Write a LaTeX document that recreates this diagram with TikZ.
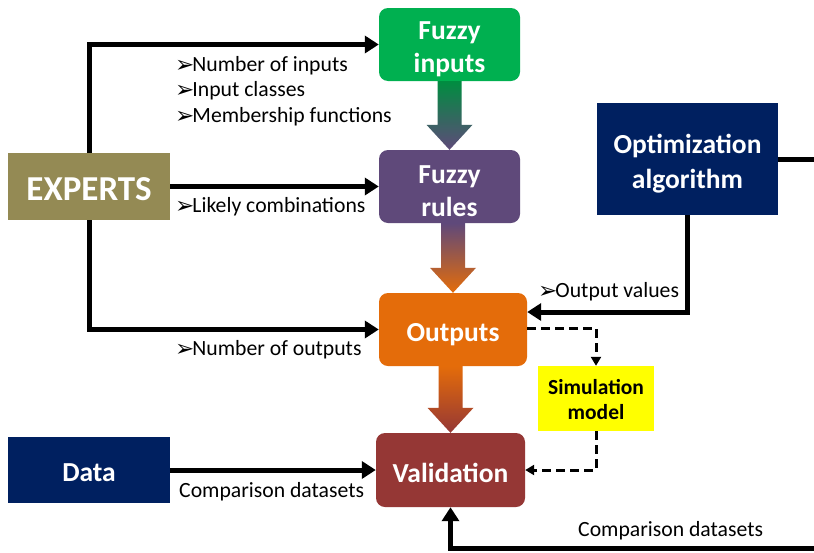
\documentclass[tikz,border=0pt]{standalone}
\usepackage{fontspec}
\setmainfont{Carlito}
\newfontfamily\symfont{DejaVu Sans}
\usetikzlibrary{arrows.meta,calc}

\definecolor{cgreen}{HTML}{00B050}
\definecolor{cpurple}{HTML}{5F497A}
\definecolor{corange}{HTML}{E46C0A}
\definecolor{cred}{HTML}{953735}
\definecolor{colive}{HTML}{948A54}
\definecolor{cnavy}{HTML}{002060}
\definecolor{cyellow}{HTML}{FFFF00}

% bullet arrowhead in front of the list labels
\newcommand\bul{\raisebox{-0.5pt}{\symfont\fontsize{23}{23}\selectfont ➢}\kern-2pt}
% strut that lowers the text inside the boxes a little
\newcommand\lift[1]{\rule{0pt}{#1}}

% vertical block arrow between two stacked nodes, shaded from #3 to #4
\newcommand\blockarr[4]{%
  \shade[top color=#3, bottom color=#4]
    ($(#2.north |- #1.south)+(-12,0)$) --
    ($(#2.north |- #1.south)+(12,0)$) --
    ($(#2.north)+(12,-25)$) -- ($(#2.north)+(23,-25)$) --
    (#2.north) --
    ($(#2.north)+(-23,-25)$) -- ($(#2.north)+(-12,-25)$) -- cycle;}

\tikzset{
  box/.style={rounded corners=9pt, text=white, align=center,
    font=\bfseries\fontsize{27.5}{33}\selectfont, inner sep=0pt},
  sqbox/.style={text=white, align=center,
    font=\bfseries\fontsize{27.5}{35}\selectfont, inner sep=0pt},
  conn/.style={line width=5pt, -{Triangle[length=14pt,width=17pt]}},
  plain/.style={line width=5pt},
  dconn/.style={line width=3pt, dash pattern=on 9pt off 5pt,
    -{Triangle[length=9pt,width=10pt]}},
  lbl/.style={anchor=west, inner sep=0pt, font=\fontsize{21.7}{21.7}\selectfont},
}

\begin{document}
\begin{tikzpicture}[x=1pt, y=-1pt]
\path[use as bounding box, fill=white] (0,0) rectangle (814,552);

% boxes
\node[box, fill=cgreen, minimum width=141pt, minimum height=73pt] (finp) at (449.5,44.5) {\lift{28pt}Fuzzy\\inputs};
\node[box, fill=cpurple, minimum width=141pt, minimum height=73pt] (frul) at (449.5,186.5) {\lift{28pt}Fuzzy\\rules};
\node[box, fill=corange, minimum width=148pt, minimum height=73pt] (outp) at (453,329.5) {\lift{28pt}Outputs};
\node[box, fill=cred, minimum width=149pt, minimum height=74pt] (valid) at (450.5,470) {\lift{26pt}Validation};
\node[sqbox, fill=colive, minimum width=162pt, minimum height=67pt,
      font=\bfseries\fontsize{35}{35}\selectfont] (experts) at (89,186.5) {\lift{29pt}EXPERTS};
\node[sqbox, fill=cnavy, minimum width=181pt, minimum height=112pt] (optim) at (687.5,159) {\lift{28pt}Optimization\\algorithm};
\node[sqbox, fill=cnavy, minimum width=162pt, minimum height=66pt] (data) at (89,470) {\lift{24pt}Data};
\node[sqbox, fill=cyellow, text=black, minimum width=116pt, minimum height=65pt,
      font=\bfseries\fontsize{21.5}{25}\selectfont] (sim) at (596,398.5) {\lift{17pt}Simulation\\model};

% shaded block arrows down the main chain
\blockarr{finp}{frul}{cgreen!80!black}{cpurple}
\blockarr{frul}{outp}{cpurple}{corange}
\blockarr{outp}{valid}{corange}{cred}

% connectors
\coordinate (optR) at (814,159);
\coordinate (botR) at (814,548);
\draw[conn] (experts.north) |- (finp.west);
\draw[conn] (experts.east) -- (frul.west);
\draw[conn] (experts.south) |- (outp.west);
\draw[plain] (optim.east) -- (optR);
\draw[conn] (optim.south) |- ($(outp.east)+(0,-17.5)$);
\draw[conn] (data.east) -- (valid.west);
\draw[conn] (botR) -| (valid.south);
\draw[dconn] ($(outp.east)+(0,-1.5)$) -| (sim.north);
\draw[dconn] (sim.south) |- (valid.east);

% labels
\node[lbl] (l1) at (175,66) {\bul Number of inputs};
\node[lbl] (l2) at (175,91) {\bul Input classes};
\node[lbl] (l3) at (175,117) {\bul Membership functions};
\node[lbl] (l4) at (175,207) {\bul Likely combinations};
\node[lbl] (l5) at (175,350) {\bul Number of outputs};
\node[lbl] (l6) at (538,292) {\bul Output values};
\node[lbl] (l7) at (179,492) {Comparison datasets};
\node[lbl] (l8) at (578,531) {Comparison datasets};
\end{tikzpicture}
\end{document}
